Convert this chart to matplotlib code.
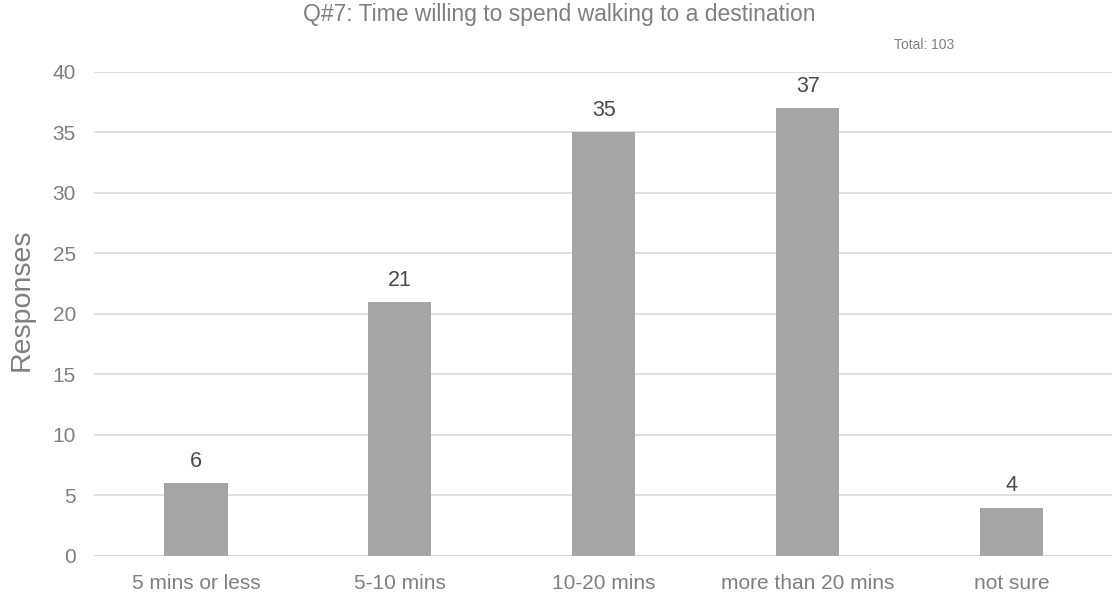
import matplotlib
matplotlib.use("Agg")
import matplotlib.pyplot as plt

categories = ["5 mins or less", "5-10 mins", "10-20 mins", "more than 20 mins", "not sure"]
responses = [6, 21, 35, 37, 4]
yticks = [0, 5, 10, 15, 20, 25, 30, 35, 40]
title = "Q#7: Time willing to spend walking to a destination"
total_note = "Total: 103"

plt.rcParams["font.family"] = ["Liberation Sans", "DejaVu Sans"]

fig = plt.figure(figsize=(11.12, 5.99), dpi=100)
ax = fig.add_axes([0.0845, 0.0718, 0.917, 0.808])

x = range(len(categories))
ax.bar(x, responses, width=0.31, color="#a5a5a5", zorder=3)
for xi, v in zip(x, responses):
    ax.annotate(str(v), (xi, v), xytext=(0, 8), textcoords="offset points",
                ha="center", va="bottom", fontsize=15.5, color="#4a4a4a")

ax.set_xlim(-0.5, len(categories) - 0.5)
ax.set_ylim(0, 40)
ax.set_yticks(yticks)
ax.set_xticks(list(x))
ax.set_xticklabels(categories)
ax.yaxis.grid(True, color="#d9d9d9", linewidth=1.2, zorder=0)
ax.tick_params(axis="both", length=0, labelsize=15, labelcolor="#7f7f7f")
ax.tick_params(axis="y", pad=13)
ax.tick_params(axis="x", pad=13)
for s in ax.spines.values():
    s.set_visible(False)
ax.axhline(0, color="#d9d9d9", linewidth=1.2, zorder=2)

ax.set_ylabel("Responses", fontsize=20.5, color="#7f7f7f")
ax.yaxis.set_label_coords(-0.058, 0.53)
fig.text(0.503, 0.976, title, ha="center", va="center", fontsize=16.5, color="#7f7f7f")
fig.text(0.831, 0.925, total_note, ha="center", va="center", fontsize=10, color="#7f7f7f")

fig.savefig("out.png", dpi=100)
